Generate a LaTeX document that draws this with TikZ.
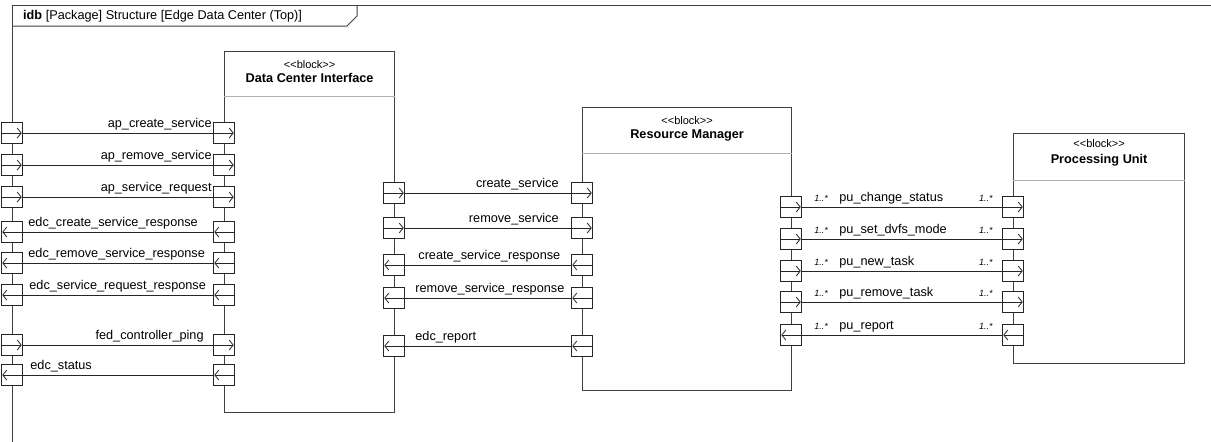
\documentclass[tikz,border=0pt]{standalone}
\usepackage{fontspec}
\setmainfont{Liberation Sans}
\usetikzlibrary{positioning,arrows.meta}

\begin{document}
\begin{tikzpicture}[x=1pt, y=-1pt,
  every node/.style={font=\fontsize{12.7}{15}\selectfont},
  frame/.style={draw=black!75, line width=1pt},
  block/.style={draw=black!75, line width=1.2pt, anchor=north west, inner sep=0},
  sep/.style={draw=black!30, line width=1pt},
  stereo/.style={font=\fontsize{11}{12}\selectfont, inner sep=0},
  title/.style={font=\fontsize{12.7}{15}\selectfont\bfseries, inner sep=0},
  port/.style={draw=black!85, fill=white, line width=0.9pt, minimum width=21pt, minimum height=21pt, inner sep=0},
  portarr/.style={line width=0.8pt, shorten >=0.8pt, -{Straight Barb[length=4pt, width=10pt]}},
  portin/.style={port, path picture={\draw[portarr] (path picture bounding box.west) -- (path picture bounding box.east);}},
  portout/.style={port, path picture={\draw[portarr] (path picture bounding box.east) -- (path picture bounding box.west);}},
  link/.style={draw=black!85, line width=0.9pt},
  lbl/.style={inner sep=0, yshift=5.5pt},
  lblin/.style={lbl, pos=1, anchor=base east, xshift=#1},
  lblout/.style={lbl, pos=0, anchor=base west, xshift=#1},
  mult/.style={font=\fontsize{9}{10}\selectfont\itshape, inner sep=0, yshift=5.5pt}
]
\useasboundingbox (0,0) rectangle (1211,442);

% diagram frame
\draw[frame] (12,442) -- (12,5) -- (1211,5);
\draw[frame] (12,26) -- (347,26) -- (357,16) -- (357,5);
\node[anchor=west, inner sep=0] (hdr) at (23,16) {\textbf{idb} [Package] Structure [Edge Data Center (Top)]};

% blocks
\node[block, minimum width=170pt, minimum height=361pt] (dci) at (224,51) {};
\node[stereo, below=9pt of dci.north] (dci-st) {<{}<block>{}>};
\node[title, below=5pt of dci-st] (dci-t) {Data Center Interface};
\draw[sep] ([yshift=-45pt]dci.north west) -- ([yshift=-45pt]dci.north east);

\node[block, minimum width=209pt, minimum height=283pt] (rm) at (582,107) {};
\node[stereo, below=9pt of rm.north] (rm-st) {<{}<block>{}>};
\node[title, below=5pt of rm-st] (rm-t) {Resource Manager};
\draw[sep] ([yshift=-46pt]rm.north west) -- ([yshift=-46pt]rm.north east);

\node[block, minimum width=171pt, minimum height=230pt] (pu) at (1013,133) {};
\node[stereo, below=6pt of pu.north] (pu-st) {<{}<block>{}>};
\node[title, below=7pt of pu-st] (pu-t) {Processing Unit};
\draw[sep] ([yshift=-47pt]pu.north west) -- ([yshift=-47pt]pu.north east);

% frame <-> data center interface
\foreach \y/\dir/\s/\txt [count=\i] in {
    133/in/-1/ap\_create\_service,
    165/in/-1/ap\_remove\_service,
    197/in/-1/ap\_service\_request,
    232/out/5/edc\_create\_service\_response,
    263/out/5/edc\_remove\_service\_response,
    295/out/6/edc\_service\_request\_response,
    345/in/-9/fed\_controller\_ping,
    375/out/7/edc\_status} {
  \node[port\dir] (f\i) at (12,\y) {};
  \node[port\dir] (dl\i) at (224,\y) {};
  \draw[link] (f\i) -- (dl\i) node[lbl\dir=\s pt] {\txt};
}

% data center interface <-> resource manager
\foreach \y/\dir/\s/\txt [count=\i] in {
    193/in/-12/create\_service,
    228/in/-12/remove\_service,
    265/out/13/create\_service\_response,
    298/out/10/remove\_service\_response,
    346/out/10/edc\_report} {
  \node[port\dir] (dr\i) at (394,\y) {};
  \node[port\dir] (rl\i) at (582,\y) {};
  \draw[link] (dr\i) -- (rl\i) node[lbl\dir=\s pt] {\txt};
}

% resource manager <-> processing unit
\foreach \y/\dir/\txt [count=\i] in {
    207/in/pu\_change\_status,
    239/in/pu\_set\_dvfs\_mode,
    271/in/pu\_new\_task,
    302/in/pu\_remove\_task,
    335/out/pu\_report} {
  \node[port\dir] (rr\i) at (791,\y) {};
  \node[port\dir] (pl\i) at (1013,\y) {};
  \draw[link] (rr\i) -- (pl\i)
    node[mult, pos=0, anchor=base west, xshift=12pt] {1..*}
    node[lbl, pos=0, anchor=base west, xshift=37pt] {\txt}
    node[mult, pos=1, anchor=base east, xshift=-9pt] {1..*};
}
\end{tikzpicture}
\end{document}
